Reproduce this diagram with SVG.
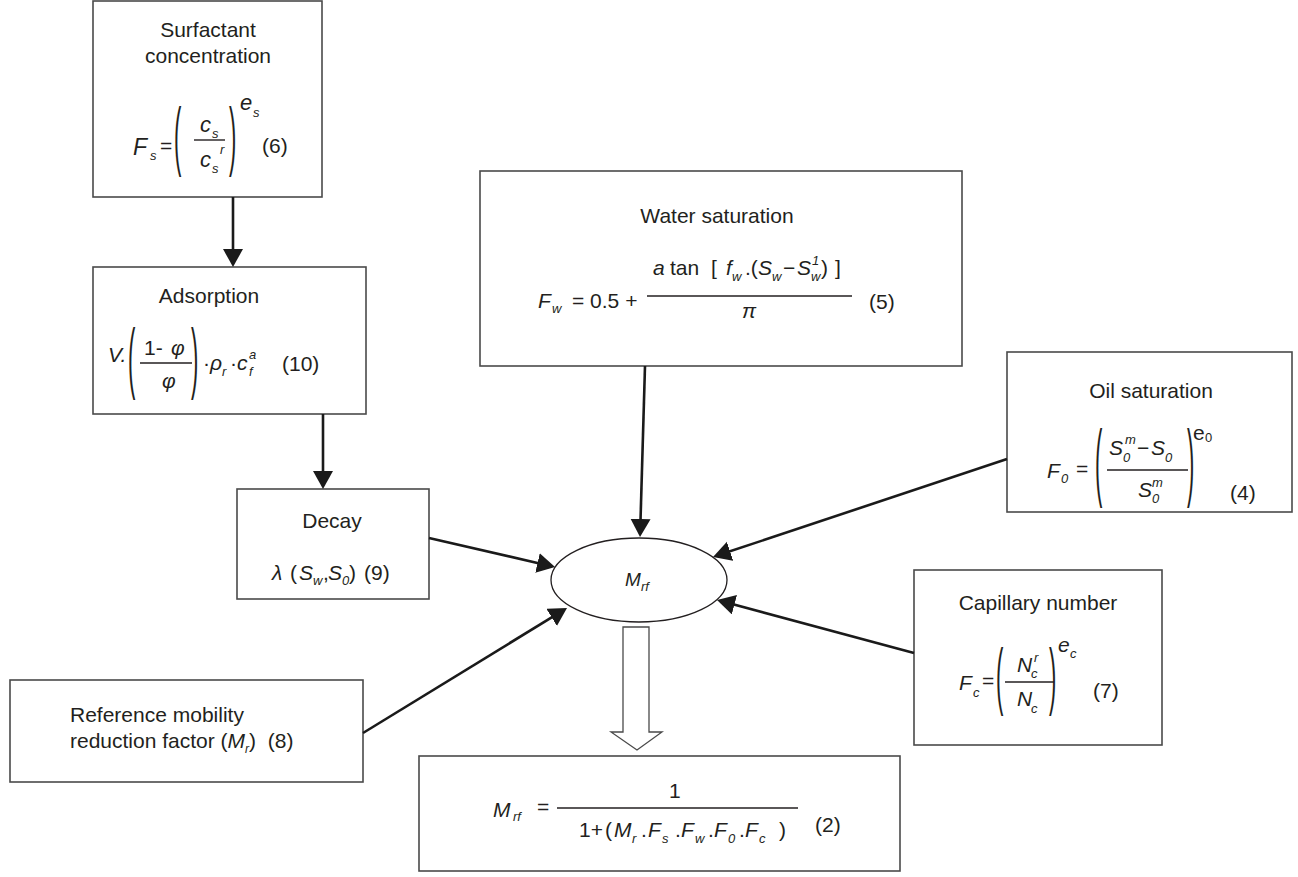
<svg xmlns="http://www.w3.org/2000/svg" width="1298" height="877" viewBox="0 0 1298 877">
<defs>
<style>
.box{fill:#fff;stroke:#4a4a4a;stroke-width:1.6}
text{font-family:"Liberation Sans",Arial,Helvetica,sans-serif;fill:#231f20}
.h{font-size:21px}
.m{font-size:21px}
.i{font-style:italic}
.s{font-size:13px}
.p{font-size:22px}
.fl{stroke:#231f20;stroke-width:1.4}
.c{stroke:#1a1a1a;stroke-width:2.6;fill:none}
</style>
<marker id="ah" markerUnits="userSpaceOnUse" markerWidth="20" markerHeight="22" refX="12" refY="10" orient="auto"><path d="M0,0 L18,10 L0,20 z" fill="#1a1a1a"/></marker>
</defs>
<rect width="1298" height="877" fill="#fff"/>

<g id="surfactant">
<rect class="box" x="93" y="1" width="229" height="196"/>
<text class="h" x="208" y="37" text-anchor="middle">Surfactant</text>
<text class="h" x="208" y="63" text-anchor="middle">concentration</text>
<text class="i" font-size="23" x="133" y="155">F</text>
<text class="s i" x="150" y="160">s</text>
<text class="m" x="160" y="153">=</text>
<text class="p" transform="translate(174,161) scale(1,3.45)">(</text>
<text class="i" font-size="22" x="200" y="132">c</text>
<text class="s i" x="212" y="138">s</text>
<line class="fl" x1="194" y1="140" x2="225" y2="140"/>
<text class="i" font-size="22" x="200" y="167">c</text>
<text class="s i" x="212" y="173">s</text>
<text class="s i" x="220" y="154">r</text>
<text class="p" transform="translate(229,161) scale(1,3.45)">)</text>
<text class="i" font-size="22" x="240" y="110">e</text>
<text class="s i" x="253" y="117">s</text>
<text class="m" x="262" y="153">(6)</text>
</g>

<g id="adsorption">
<rect class="box" x="93" y="267" width="273" height="147"/>
<text class="h" x="209" y="303" text-anchor="middle">Adsorption</text>
<text class="m i" x="108" y="362">V.</text>
<text class="p" transform="translate(128,384) scale(1,3.5)">(</text>
<text class="m" x="144" y="355">1-</text>
<text class="m i" x="171" y="355">φ</text>
<line class="fl" x1="140" y1="363" x2="192" y2="363"/>
<text class="m i" x="162" y="388">φ</text>
<text class="p" transform="translate(191,384) scale(1,3.5)">)</text>
<text class="m" x="203" y="370">·</text>
<text class="m i" x="210" y="370">ρ</text>
<text class="s i" x="222" y="376">r</text>
<text class="m" x="230" y="370">·</text>
<text class="m i" x="237" y="370">c</text>
<text class="s i" x="249" y="376">f</text>
<text class="s i" x="249" y="359">a</text>
<text class="m" x="282" y="371">(10)</text>
</g>

<g id="decay">
<rect class="box" x="237" y="489" width="192" height="110"/>
<text class="h" x="332" y="528" text-anchor="middle">Decay</text>
<text class="m i" x="272" y="580">λ</text>
<text class="m" x="290" y="580">(</text>
<text class="m i" x="299" y="580">S</text>
<text class="s i" x="313" y="585">w</text>
<text class="m" x="323" y="580">,</text>
<text class="m i" x="328" y="580">S</text>
<text class="s i" x="342" y="585">0</text>
<text class="m" x="349" y="580">)</text>
<text class="m" x="364" y="580">(9)</text>
</g>

<g id="water">
<rect class="box" x="480" y="171" width="482" height="195"/>
<text class="h" x="717" y="223" text-anchor="middle">Water saturation</text>
<text class="m i" x="538" y="308">F</text>
<text class="s i" x="552" y="313">w</text>
<text class="m" x="572" y="308">= 0.5 +</text>
<text class="m i" x="653" y="275">a</text>
<text class="m" x="670" y="275">tan</text>
<text class="m" x="711" y="275">[</text>
<text class="m i" x="726" y="275">f</text>
<text class="s i" x="732" y="281">w</text>
<text class="m" x="745" y="275">.(</text>
<text class="m i" x="758" y="275">S</text>
<text class="s i" x="772" y="281">w</text>
<text class="m" x="783" y="275">−</text>
<text class="m i" x="797" y="275">S</text>
<text class="s i" x="811" y="281">w</text>
<text class="s i" x="812" y="265">1</text>
<text class="m" x="821" y="275">)</text>
<text class="m" x="835" y="275">]</text>
<line class="fl" x1="647" y1="296" x2="852" y2="296"/>
<text class="m i" x="742" y="318">π</text>
<text class="m" x="869" y="309">(5)</text>
</g>

<g id="oil">
<rect class="box" x="1007" y="352" width="285" height="160"/>
<text class="h" x="1151" y="398" text-anchor="middle">Oil saturation</text>
<text class="m i" x="1047" y="478">F</text>
<text class="s i" x="1061" y="483">0</text>
<text class="m" x="1076" y="476">=</text>
<text class="p" transform="translate(1095,490) scale(1,3.88)">(</text>
<text class="m i" x="1109" y="455">S</text>
<text class="s i" x="1123" y="462">0</text>
<text class="s i" x="1125" y="444">m</text>
<text class="m" x="1137" y="455">−</text>
<text class="m i" x="1151" y="455">S</text>
<text class="s i" x="1165" y="462">0</text>
<line class="fl" x1="1107" y1="470" x2="1188" y2="470"/>
<text class="m i" x="1138" y="497">S</text>
<text class="s i" x="1152" y="503">0</text>
<text class="s i" x="1152" y="487">m</text>
<text class="p" transform="translate(1187,490) scale(1,3.88)">)</text>
<text class="m" x="1193" y="440">e</text>
<text class="s" x="1205" y="442">0</text>
<text class="m" x="1230" y="500">(4)</text>
</g>

<g id="capillary">
<rect class="box" x="914" y="570" width="248" height="175"/>
<text class="h" x="1038" y="610" text-anchor="middle">Capillary number</text>
<text class="m i" x="959" y="690">F</text>
<text class="s i" x="973" y="697">c</text>
<text class="m" x="982" y="688">=</text>
<text class="p" transform="translate(996,701) scale(1,3.4)">(</text>
<text class="m i" x="1017" y="672">N</text>
<text class="s i" x="1031" y="678">c</text>
<text class="s i" x="1034" y="662">r</text>
<line class="fl" x1="1005" y1="682" x2="1054" y2="682"/>
<text class="m i" x="1017" y="706">N</text>
<text class="s i" x="1031" y="713">c</text>
<text class="p" transform="translate(1049,701) scale(1,3.4)">)</text>
<text class="m i" x="1058" y="652">e</text>
<text class="s i" x="1070" y="658">c</text>
<text class="m" x="1093" y="698">(7)</text>
</g>

<g id="reference">
<rect class="box" x="10" y="680" width="353" height="102"/>
<text class="h" x="70" y="722">Reference mobility</text>
<text class="h" x="70" y="748" xml:space="preserve">reduction factor (<tspan class="i">M</tspan><tspan class="i" font-size="12" dy="5">r</tspan><tspan dy="-5">)  (8)</tspan></text>
</g>

<g id="mrf">
<ellipse cx="639" cy="580" rx="88" ry="42" fill="#fff" stroke="#231f20" stroke-width="1.3"/>
<text class="i" font-size="19" x="625" y="586">M</text>
<text class="s i" x="641" y="591">rf</text>
</g>

<g id="result">
<rect class="box" x="419" y="756" width="481" height="115"/>
<text class="m i" x="493" y="817">M</text>
<text class="s i" x="513" y="821">rf</text>
<text class="m" x="537" y="814">=</text>
<line class="fl" x1="557" y1="808" x2="798" y2="808"/>
<text class="m" x="669" y="798">1</text>
<text class="m" x="579" y="837">1+</text>
<text class="m" x="605" y="837">(</text>
<text class="m i" x="614" y="837">M</text>
<text class="s i" x="632" y="843">r</text>
<text class="m" x="641" y="837">.</text>
<text class="m i" x="648" y="837">F</text>
<text class="s i" x="662" y="843">s</text>
<text class="m" x="675" y="837">.</text>
<text class="m i" x="681" y="837">F</text>
<text class="s i" x="695" y="843">w</text>
<text class="m" x="708" y="837">.</text>
<text class="m i" x="714" y="837">F</text>
<text class="s i" x="728" y="843">0</text>
<text class="m" x="739" y="837">.</text>
<text class="m i" x="745" y="837">F</text>
<text class="s i" x="759" y="843">c</text>
<text class="m" x="779" y="837">)</text>
<text class="m" x="815" y="832">(2)</text>
</g>

<g id="connectors">
<line class="c" x1="233" y1="197" x2="233" y2="261" marker-end="url(#ah)"/>
<line class="c" x1="323" y1="414" x2="323" y2="483" marker-end="url(#ah)"/>
<line class="c" x1="429" y1="538" x2="549.2" y2="565.7" marker-end="url(#ah)"/>
<line class="c" x1="363" y1="733" x2="561.9" y2="611.1" marker-end="url(#ah)"/>
<line class="c" x1="645" y1="366" x2="640.2" y2="531" marker-end="url(#ah)"/>
<line class="c" x1="1007" y1="459" x2="718.7" y2="555.1" marker-end="url(#ah)"/>
<line class="c" x1="914" y1="653" x2="722.8" y2="601.6" marker-end="url(#ah)"/>
<polygon points="623,627 649,627 649,732 662,732 637,750 611,732 623,732" fill="#fff" stroke="#4a4a4a" stroke-width="1.3"/>
</g>
</svg>
